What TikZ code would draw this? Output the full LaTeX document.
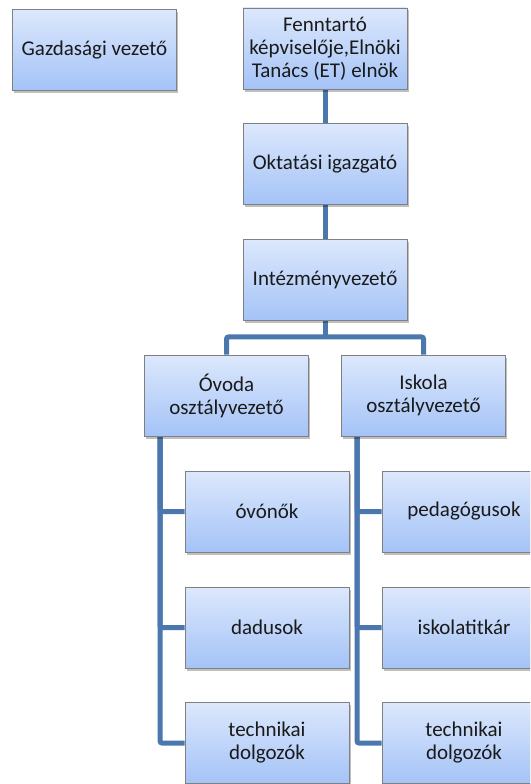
\documentclass[tikz,border=0pt]{standalone}
\usepackage{fontspec}
\setmainfont{Carlito}
\usetikzlibrary{shadows,backgrounds,calc}
\definecolor{boxtop}{HTML}{DCE8FC}
\definecolor{boxbot}{HTML}{A4C3F7}
\definecolor{boxline}{HTML}{808080}
\definecolor{connc}{HTML}{4A78AE}
\definecolor{txt}{HTML}{1A1A1A}
\tikzset{
  box/.style={draw=boxline, line width=0.9pt, top color=boxtop, bottom color=boxbot,
    minimum width=164pt, minimum height=81pt, align=center, inner sep=2pt,
    text=txt, font=\fontsize{21}{23}\selectfont,
    drop shadow={shadow xshift=1.5pt, shadow yshift=-2.5pt, fill=black, opacity=0.25}},
  conn/.style={draw=connc, line width=5pt, rounded corners=2pt}
}
\begin{document}
\begin{tikzpicture}[x=1pt,y=-1pt]
\clip (0,0) rectangle (530,784);
\node[box] (g) at (94.5,50) {Gazdasági vezető};
\node[box] (f) at (325,48.5) {Fenntartó\\képviselője,Elnöki\\Tanács (ET) elnök};
\node[box] (o) at (325,164) {Oktatási igazgató};
\node[box] (i) at (325,280) {Intézményvezető};
\node[box] (ov) at (226.5,395.5) {Óvoda\\osztályvezető};
\node[box] (is) at (423.5,395.5) {Iskola\\osztályvezető};
\node[box] (c1) at (267,511.5) {óvónők};
\node[box] (c2) at (267,627.5) {dadusok};
\node[box] (c3) at (267,743) {technikai\\dolgozók};
\node[box] (d1) at (464,511.5) {pedagógusok};
\node[box] (d2) at (464,627.5) {iskolatitkár};
\node[box] (d3) at (464,743) {technikai\\dolgozók};
\begin{scope}[on background layer]
  \coordinate (bus) at ($(i.south)+(0,16)$);
  \coordinate (ovx) at ($(ov.south west)+(16,0)$);
  \coordinate (isx) at ($(is.south west)+(16,0)$);
  \draw[conn] (f.south) -- (o.north);
  \draw[conn] (o.south) -- (i.north);
  \draw[conn] (i.south) -- (bus);
  \draw[conn] (ov.north) |- (bus) -| (is.north);
  \draw[conn] (ovx) |- (c1.west);
  \draw[conn] (ovx) |- (c2.west);
  \draw[conn] (ovx) |- (c3.west);
  \draw[conn] (isx) |- (d1.west);
  \draw[conn] (isx) |- (d2.west);
  \draw[conn] (isx) |- (d3.west);
\end{scope}
\end{tikzpicture}
\end{document}
